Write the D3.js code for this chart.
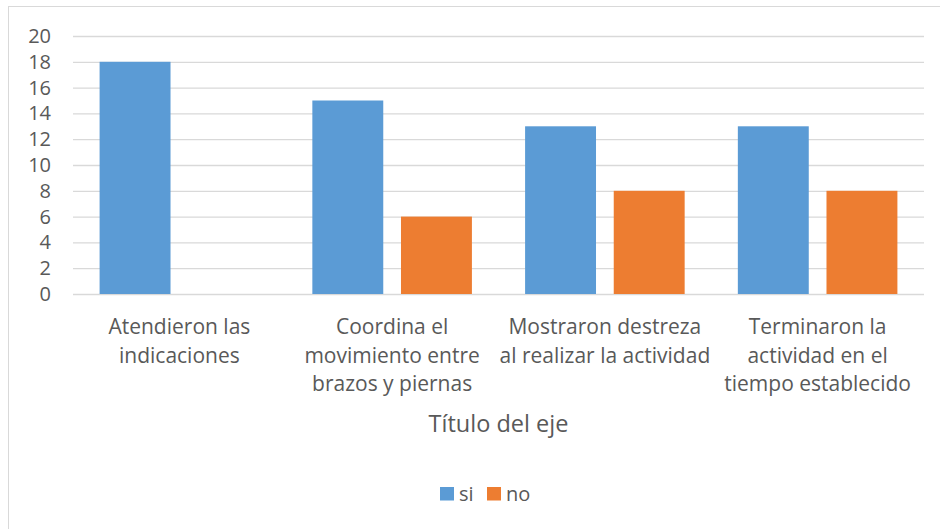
<!DOCTYPE html>
<html>
<head>
<meta charset="utf-8">
<script src="https://cdn.jsdelivr.net/npm/d3@7"></script>
<style>
	body { margin: 0; background: #fff; }
	text { font-family: "Open Sans", sans-serif; fill: #595959; }
</style>
</head>
<body>
<div id="chart"></div>
<script>
// values
let categories = [
	"Atendieron las\nindicaciones",
	"Coordina el\nmovimiento entre\nbrazos y piernas",
	"Mostraron destreza\nal realizar la actividad",
	"Terminaron la\nactividad en el\ntiempo establecido"
];
let seriesNames = ["si", "no"];
let siValues = [18, 15, 13, 13];
let noValues = [0, 6, 8, 8];
let yTicks = [0, 2, 4, 6, 8, 10, 12, 14, 16, 18, 20];
let axisTitle = "Título del eje";

function drawChart(idDiv){
	let width = 940, height = 529;
	let plot = {left: 73, right: 924, top: 36, bottom: 294};
	let colors = ["#5B9BD5", "#ED7D31"];

	let data = categories.map(function(c, i){
		return {cat: c, si: siValues[i], no: noValues[i]};
	});

	let svg = d3.select(idDiv).append("svg")
		.attr("width", width)
		.attr("height", height);

	// chart frame (only top and left fall inside the picture)
	svg.append("rect")
		.attr("x", 8.5)
		.attr("y", 6.5)
		.attr("width", width)
		.attr("height", height)
		.style("fill", "none")
		.style("stroke", "#d9d9d9");

	let x0 = d3.scaleBand()
		.domain(categories)
		.range([plot.left, plot.right])
		.padding(0);

	let pad = x0.bandwidth() * 0.125;
	let x1 = d3.scaleBand()
		.domain(seriesNames)
		.range([pad, x0.bandwidth() - pad])
		.paddingInner(0.2);

	let y = d3.scaleLinear()
		.domain([0, 20])
		.range([plot.bottom, plot.top]);

	let color = d3.scaleOrdinal()
		.domain(seriesNames)
		.range(colors);

	// y axis + gridlines
	let yAxis = svg.append("g")
		.attr("transform", "translate(" + plot.left + ",0)")
		.call(d3.axisLeft(y)
			.tickValues(yTicks)
			.tickSize(-(plot.right - plot.left))
			.tickPadding(22));
	yAxis.select(".domain").remove();
	yAxis.selectAll("line")
		.style("stroke", "#d9d9d9")
		.style("stroke-width", 1.3);
	yAxis.selectAll("text")
		.style("font-family", "'Open Sans', sans-serif")
		.style("font-size", "20px")
		.style("fill", "#595959");

	// bars
	let groups = svg.selectAll(".cat")
		.data(data)
		.enter().append("g")
		.attr("class", "cat")
		.attr("transform", function(d) { return "translate(" + x0(d.cat) + ",0)"; });

	groups.selectAll("rect")
		.data(function(d) { return seriesNames.map(function(s){ return {name: s, value: d[s]}; }); })
		.enter().append("rect")
		.attr("x", function(d) { return x1(d.name); })
		.attr("width", x1.bandwidth())
		.attr("y", function(d) { return y(d.value); })
		.attr("height", function(d) { return y(0) - y(d.value); })
		.style("fill", function(d) { return color(d.name); });

	// category labels
	let labels = svg.selectAll(".catlabel")
		.data(categories)
		.enter().append("text")
		.attr("class", "catlabel")
		.attr("text-anchor", "middle")
		.style("font-size", "21px");
	labels.selectAll("tspan")
		.data(function(d) { return d.split("\n").map(function(line){ return {cat: d, line: line}; }); })
		.enter().append("tspan")
		.attr("x", function(d) { return x0(d.cat) + x0.bandwidth() / 2; })
		.attr("y", function(d, i) { return 327 + i * 28.5; })
		.attr("dy", "0.35em")
		.text(function(d) { return d.line; });

	// axis title
	svg.append("text")
		.attr("x", (plot.left + plot.right) / 2)
		.attr("y", 424)
		.attr("dy", "0.35em")
		.attr("text-anchor", "middle")
		.style("font-size", "23.5px")
		.text(axisTitle);

	// legend
	let legendX = [440, 487];
	let legend = svg.selectAll(".legend")
		.data(seriesNames)
		.enter().append("g")
		.attr("class", "legend")
		.attr("transform", function(d, i) { return "translate(" + legendX[i] + ",487)"; });

	legend.append("rect")
		.attr("width", 14)
		.attr("height", 13.5)
		.style("fill", color);

	legend.append("text")
		.attr("x", 19)
		.attr("y", 7)
		.attr("dy", "0.35em")
		.style("font-size", "20px")
		.text(function(d) { return d; });
}

drawChart("#chart");
</script>
</body>
</html>
